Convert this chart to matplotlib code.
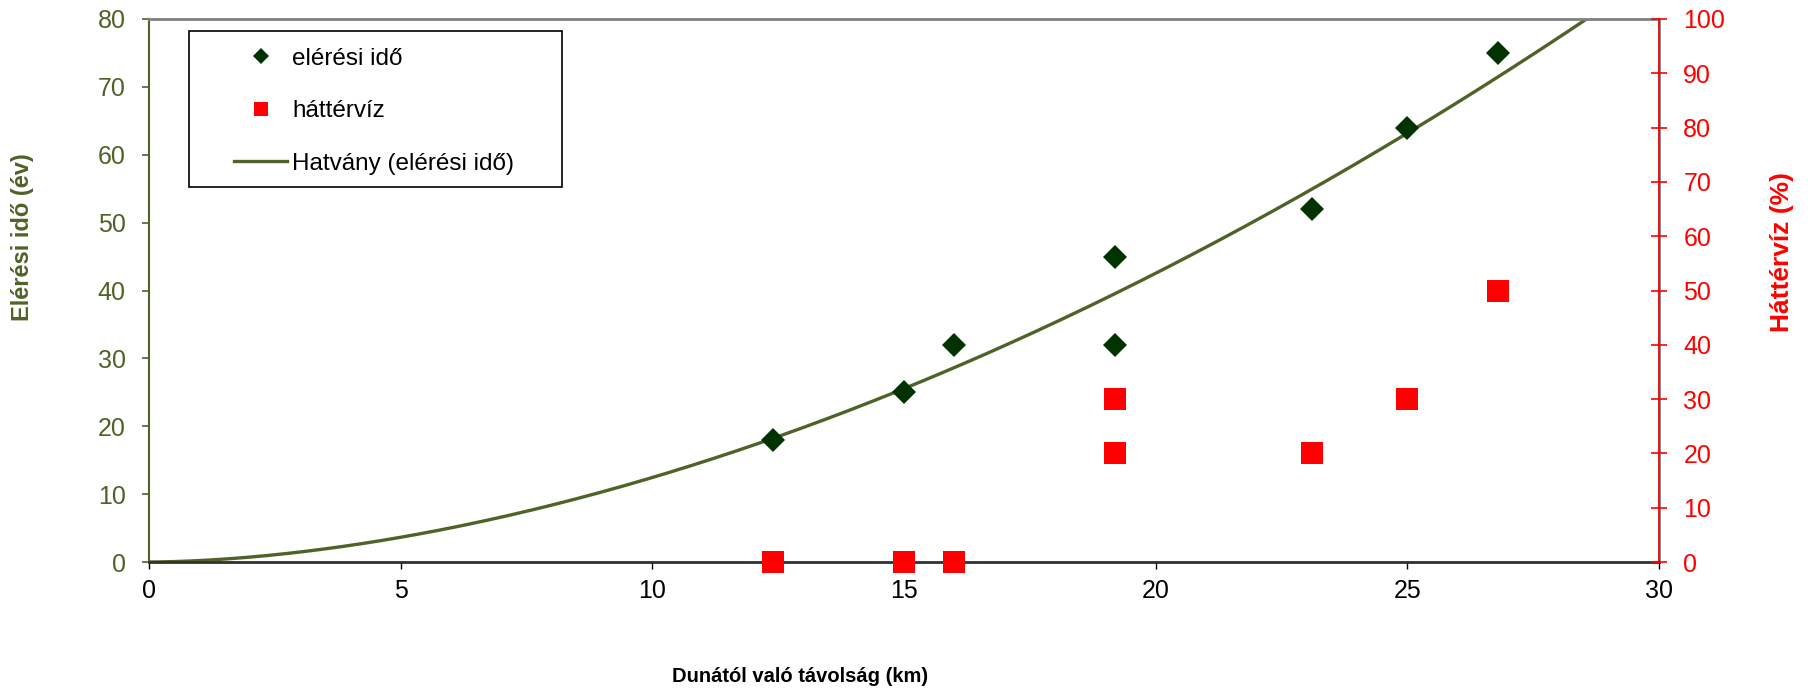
import numpy as np
import matplotlib
matplotlib.use("Agg")
import matplotlib.pyplot as plt
from matplotlib.patches import Rectangle

plt.rcParams['font.family'] = ['Liberation Sans', 'DejaVu Sans']

# distance from the Danube (km) and the two measured series
distance = [12.4, 15.0, 16.0, 19.2, 19.2, 23.1, 25.0, 26.8]
travel_time = [18, 25, 32, 45, 32, 52, 64, 75]      # elérési idő (év)
background = [0, 0, 0, 30, 20, 20, 30, 50]          # háttérvíz (%)

x_ticks = [0, 5, 10, 15, 20, 25, 30]
left_ticks = [0, 10, 20, 30, 40, 50, 60, 70, 80]
right_ticks = [0, 10, 20, 30, 40, 50, 60, 70, 80, 90, 100]

OLIVE = '#4F6228'
DARK = '#003300'
RED = '#FF0000'

# power trendline, like Excel's "Hatvány" fit: y = a * x^b
b, log_a = np.polyfit(np.log(distance), np.log(travel_time), 1)
xs = np.linspace(0, 30, 400)
ys = np.exp(log_a) * xs ** b

fig = plt.figure(figsize=(18.12, 6.91), dpi=100)
ax = fig.add_axes([149/1812, 1 - 562/691, 1510/1812, 543/691])
ax2 = ax.twinx()

line, = ax.plot(xs, ys, color=OLIVE, lw=2.4, label='Hatvány (elérési idő)', zorder=2)
dia, = ax.plot(distance, travel_time, 'D', color=DARK, markersize=12.2, mew=0,
               label='elérési idő', zorder=3)
sq, = ax2.plot(distance, background, 's', color=RED, markersize=16.5, mew=0,
               label='háttérvíz', clip_on=False, zorder=3)

ax.set_xlim(0, 30)
ax.set_ylim(0, 80)
ax2.set_ylim(0, 100)
ax.set_xticks(x_ticks)
ax.set_yticks(left_ticks)
ax2.set_yticks(right_ticks)

## frame: gray top, olive left, dark bottom axis, red right axis
ax.spines['top'].set_color('#808080')
ax.spines['top'].set_linewidth(2)
ax.spines['left'].set_color(OLIVE)
ax.spines['left'].set_linewidth(1.5)
ax.spines['bottom'].set_color('#303030')
ax.spines['bottom'].set_linewidth(2)
ax.spines['right'].set_color('#808080')
ax.spines['right'].set_linewidth(2)
for s in ['top', 'left', 'bottom']:
    ax2.spines[s].set_visible(False)
ax2.spines['right'].set_color(RED)
ax2.spines['right'].set_linewidth(1.2)

ax.tick_params(axis='y', colors=OLIVE, labelsize=18, length=5.4, width=1.2, pad=11.5)
ax.tick_params(axis='x', colors='black', labelsize=18, length=5, width=1, pad=7.5)
ax2.tick_params(axis='y', colors=RED, labelsize=18, length=11, width=1.2,
                direction='inout', pad=12)

fig.text(23/1812, 1 - 237/691, 'Elérési idő (év)', rotation=90, color=OLIVE,
         fontsize=17, fontweight='bold', ha='center', va='center')
fig.text(1782/1812, 1 - 252/691, 'Háttérvíz (%)', rotation=90, color=RED,
         fontsize=19, fontweight='bold', ha='center', va='center')
fig.text(800/1812, 1 - 676/691, 'Dunától való távolság (km)', color='black',
         fontsize=14.5, fontweight='bold', ha='center', va='center')

# legend box drawn by hand so the padding matches
ax2.add_patch(Rectangle((0.0265, 0.6906), 0.247, 0.2874, transform=ax2.transAxes,
                        facecolor='white', edgecolor='black', lw=1.2, zorder=4))
leg = ax2.legend([dia, sq, line], ['elérési idő', 'háttérvíz', 'Hatvány (elérési idő)'],
                 loc='upper left', bbox_to_anchor=(0.0563, 0.947), frameon=False,
                 borderpad=0, borderaxespad=0, fontsize=17.5, labelspacing=1.25,
                 handlelength=2.2, handletextpad=0.2, markerscale=0.64)
leg.set_zorder(5)

fig.savefig('out.png', dpi=100)
